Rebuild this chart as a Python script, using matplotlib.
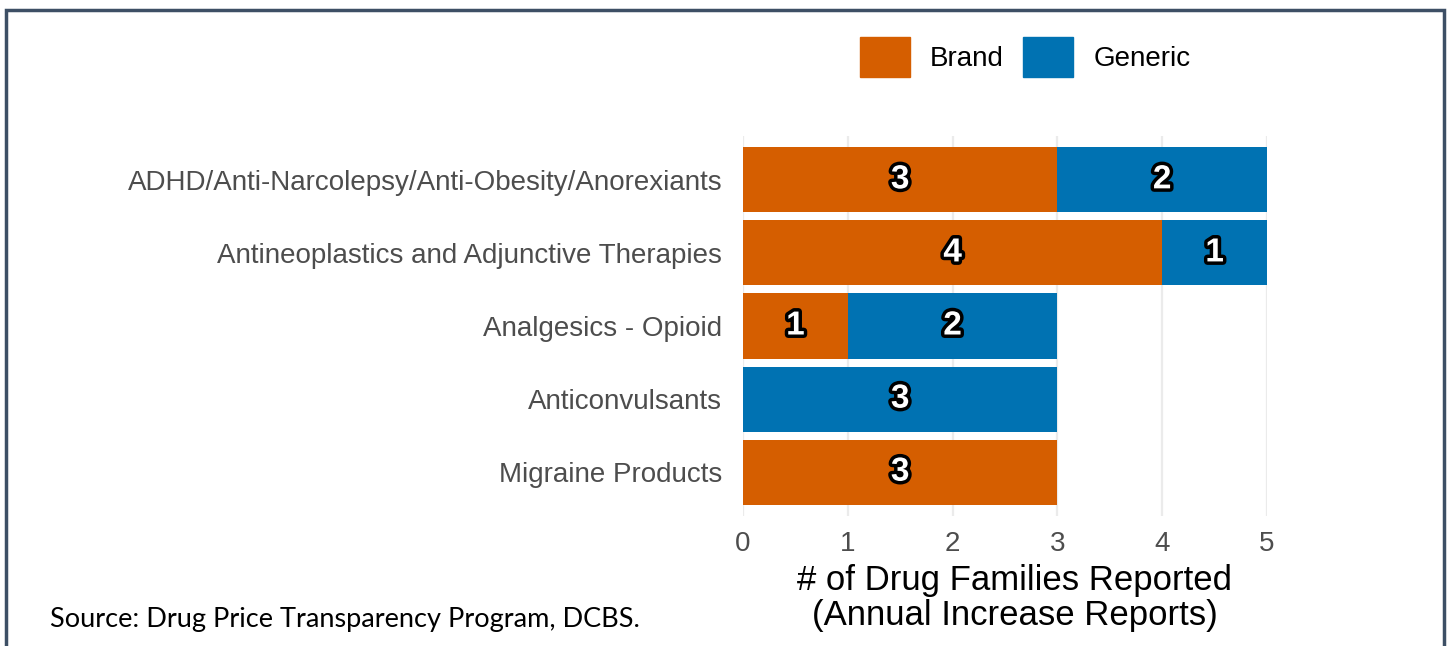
import matplotlib.pyplot as plt
import matplotlib.patheffects as pe
from matplotlib.patches import Rectangle, Patch
import numpy as np

# data, top to bottom
categories = ["ADHD/Anti-Narcolepsy/Anti-Obesity/Anorexiants",
              "Antineoplastics and Adjunctive Therapies",
              "Analgesics - Opioid",
              "Anticonvulsants",
              "Migraine Products"]
brand = [3, 4, 1, 0, 3]
generic = [2, 1, 2, 3, 0]
xticks = [0, 1, 2, 3, 4, 5]

orange = "#D55E00"
blue = "#0072B2"

plt.rcParams['font.family'] = ['Liberation Sans', 'DejaVu Sans']

fig = plt.figure(figsize=(14.5, 6.46), dpi=100)
ax = fig.add_axes([743/1450, 1-516/646, 524/1450, 380/646])

y = np.arange(len(categories))
b1 = ax.barh(y, brand, height=0.89, color=orange, zorder=2)
b2 = ax.barh(y, generic, left=brand, height=0.89, color=blue, zorder=2)

stroke = [pe.withStroke(linewidth=5, foreground="black")]
for bars, vals in ((b1, brand), (b2, generic)):
    ax.bar_label(bars, labels=[str(v) if v else "" for v in vals], label_type="center",
                 color="white", fontsize=24, fontweight="bold", path_effects=stroke)

ax.set_xlim(0, 5)
ax.set_ylim(len(categories) - 0.4, -0.6)
ax.set_yticks(y, categories)
ax.set_xticks(xticks)
ax.tick_params(axis="y", length=0, pad=15, labelsize=20, labelcolor="#4D4D4D")
ax.tick_params(axis="x", length=0, pad=11, labelsize=20, labelcolor="#4D4D4D")
ax.grid(axis="x", color="#EBEBEB", linewidth=1.6, zorder=0)
ax.set_axisbelow(True)
for s in ax.spines.values():
    s.set_visible(False)
ax.set_xlabel("# of Drug Families Reported\n(Annual Increase Reports)", fontsize=25,
              labelpad=5, linespacing=1.05)
ax.xaxis.label.set_x(0.5 + 10/524)

handles = [Patch(color=orange, label="Brand"), Patch(color=blue, label="Generic")]
fig.legend(handles=handles, loc="center", bbox_to_anchor=(1025/1450, 1-57/646), ncol=2,
           frameon=False, fontsize=20, handlelength=1.8, handleheight=1.8,
           handletextpad=0.72, columnspacing=0.72)

fig.text(50/1450, 1-620/646, "Source: Drug Price Transparency Program, DCBS.",
         fontsize=19.5, family=["Lato", "DejaVu Sans"], va="center")

fig.patches.append(Rectangle((6/1450, -0.1), 1438/1450, 1.1 - 10/646, transform=fig.transFigure,
                             fill=False, edgecolor="#3D4F65", linewidth=2.5))

fig.savefig("out.png", dpi=100)
